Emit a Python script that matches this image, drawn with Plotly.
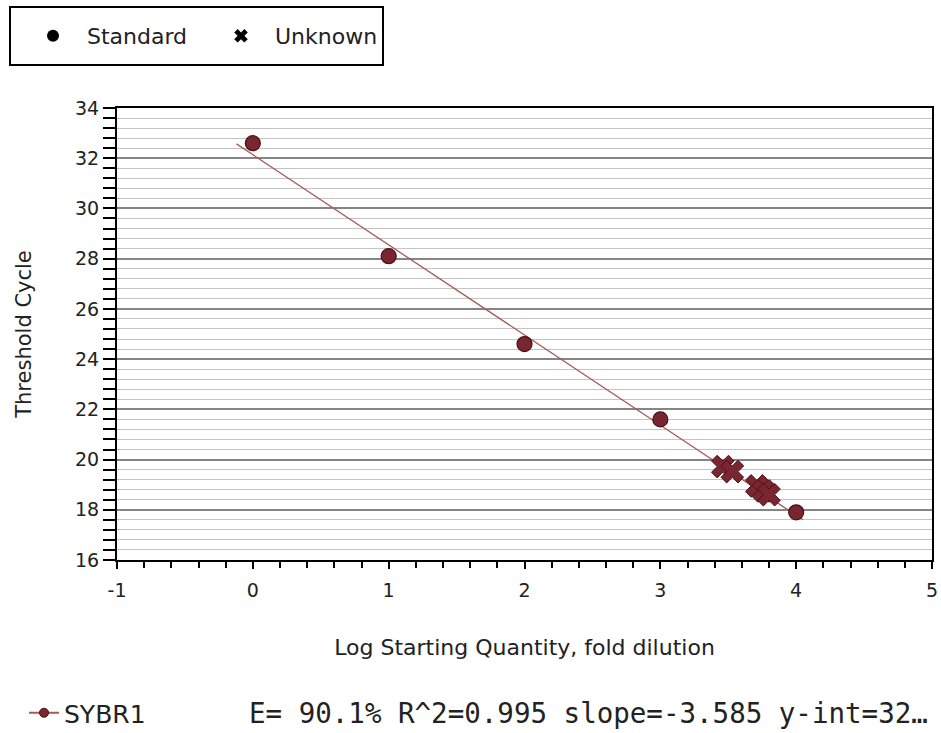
import numpy as np
import plotly.graph_objects as go

# Data
std_x = [0, 1, 2, 3, 4]
std_y = [32.6, 28.1, 24.6, 21.6, 17.9]
unk_x = [3.46, 3.53, 3.71, 3.76, 3.80]
unk_y = [19.72, 19.52, 18.95, 18.75, 18.6]
fit_range = [-0.12, 4.05]
x_ticks = [-1, 0, 1, 2, 3, 4, 5]
y_ticks = [16, 18, 20, 22, 24, 26, 28, 30, 32, 34]
series_name = "SYBR1"
stats_text = "E= 90.1% R^2=0.995 slope=-3.585 y-int=32…"

slope, intercept = np.polyfit(std_x, std_y, 1)
fit_x = np.array(fit_range)
fit_y = slope * fit_x + intercept

W, H = 941, 733
L, R, T, B = 117, 9, 108, 173
PW, PH = W - L - R, H - T - B


def px(xp):
    return (xp - L) / PW


def py(yp):
    return (H - B - yp) / PH


MAROON = "#7a2630"
EDGE = "#4a1015"
LINE = "#a65a58"
FONT = "DejaVu Sans"
NB = "\u00a0"

fig = go.Figure()

fig.add_trace(go.Scatter(x=fit_x, y=fit_y, mode="lines",
                         line=dict(color=LINE, width=1.3),
                         showlegend=False, hoverinfo="skip"))
fig.add_trace(go.Scatter(x=std_x, y=std_y, mode="markers",
                         marker=dict(symbol="circle", size=15, color=MAROON,
                                     line=dict(color=EDGE, width=1.2)),
                         showlegend=False))
fig.add_trace(go.Scatter(x=unk_x, y=unk_y, mode="markers",
                         marker=dict(symbol="x", size=20, color=MAROON,
                                     line=dict(color=EDGE, width=1)),
                         showlegend=False))

fig.add_trace(go.Scatter(x=[None], y=[None], mode="markers", name=NB * 2 + "Standard",
                         marker=dict(symbol="circle", size=11, color="black"),
                         legend="legend"))
fig.add_trace(go.Scatter(x=[None], y=[None], mode="markers", name=NB * 2 + "Unknown",
                         marker=dict(symbol="x", size=15, color="black"),
                         legend="legend"))
fig.add_trace(go.Scatter(x=[None], y=[None], mode="lines+markers", name=series_name,
                         line=dict(color=LINE, width=2),
                         marker=dict(symbol="circle", size=9, color=MAROON,
                                     line=dict(color=EDGE, width=1)),
                         legend="legend2"))

fig.update_layout(
    width=W, height=H,
    margin=dict(l=L, r=R, t=T, b=B, autoexpand=False),
    paper_bgcolor="white", plot_bgcolor="white",
    font=dict(family=FONT, size=19, color="#222222"),
    legend=dict(orientation="h", xref="container", yref="container",
                x=33 / W, y=1 - 36 / H, xanchor="left", yanchor="middle",
                borderwidth=0, bgcolor="rgba(0,0,0,0)",
                font=dict(family=FONT, size=22, color="#222222"),
                itemsizing="constant", entrywidth=143),
    legend2=dict(orientation="h", xref="container", yref="container",
                 x=24 / W, y=1 - 713 / H, xanchor="left", yanchor="middle",
                 font=dict(family=FONT, size=25, color="#222222"),
                 bgcolor="rgba(0,0,0,0)"),
    xaxis=dict(range=[-1, 5], tickvals=x_ticks, ticktext=[str(v) for v in x_ticks],
               showgrid=False, zeroline=False,
               showline=True, linecolor="black", linewidth=2, mirror=True,
               ticks="outside", ticklen=7, tickwidth=2, tickcolor="black",
               ticklabelstandoff=5,
               minor=dict(dtick=0.2, ticks="outside", ticklen=6, tickwidth=2,
                          tickcolor="black", showgrid=False),
               title=dict(text="Log Starting Quantity, fold dilution",
                          font=dict(size=22), standoff=40),
               tickfont=dict(size=19)),
    yaxis=dict(range=[16, 34], tickvals=y_ticks, ticktext=[str(v) for v in y_ticks],
               showgrid=True, gridcolor="#858585", gridwidth=1.5, zeroline=False,
               showline=True, linecolor="black", linewidth=2, mirror=True,
               ticks="outside", ticklen=12, tickwidth=2, tickcolor="black",
               minor=dict(dtick=0.4, ticks="outside", ticklen=12, tickwidth=2,
                          tickcolor="black", showgrid=True, gridcolor="#c4c4c4",
                          gridwidth=1),
               title=dict(text="Threshold Cycle", font=dict(size=21), standoff=38),
               tickfont=dict(size=19)),
)

# top legend frame
fig.add_shape(type="rect", xref="paper", yref="paper",
              x0=px(10), x1=px(383), y0=py(65), y1=py(7),
              line=dict(color="black", width=2), fillcolor="rgba(0,0,0,0)",
              layer="above")

fig.add_annotation(text=stats_text, xref="paper", yref="paper",
                   x=px(247), y=py(713),
                   xanchor="left", yanchor="middle", showarrow=False,
                   font=dict(family="DejaVu Sans Mono", size=27.5, color="#222222"))

fig.write_html("out.html", config={"displayModeBar": False},
               post_script="document.body.style.margin='0';")
